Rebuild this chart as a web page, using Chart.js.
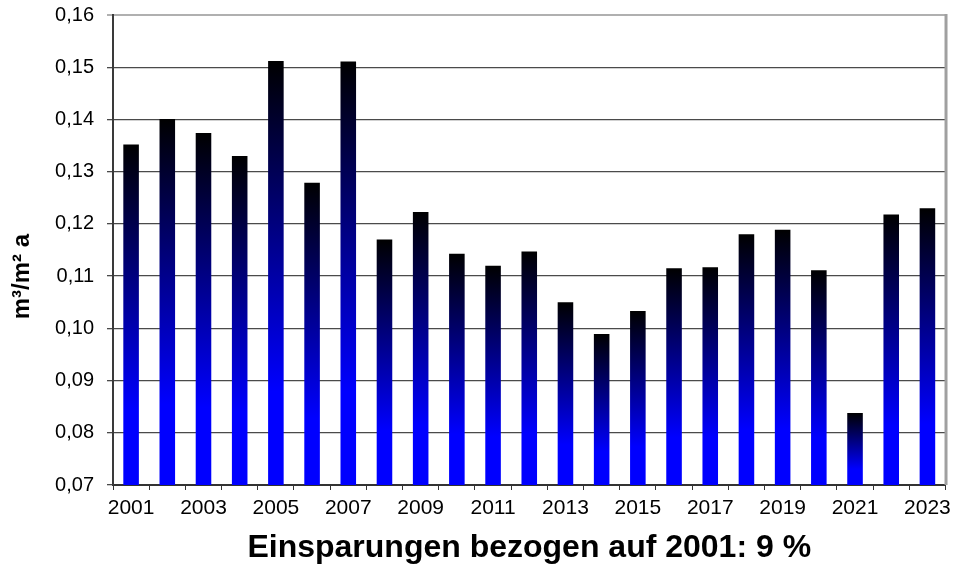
<!DOCTYPE html>
<html>
<head>
<meta charset="utf-8">
<script src="https://cdn.jsdelivr.net/npm/chart.js@4.4.1/dist/chart.umd.min.js"></script>
<style>
  html, body { margin: 0; padding: 0; background: #ffffff; }
  #c { display: block; }
</style>
</head>
<body>
<canvas id="c" width="957" height="568"></canvas>
<script>
const years = ['2001','2002','2003','2004','2005','2006','2007','2008','2009','2010','2011','2012',
               '2013','2014','2015','2016','2017','2018','2019','2020','2021','2022','2023'];
const consumption = [0.1352, 0.1401, 0.1374, 0.1330, 0.1512, 0.1279, 0.1511, 0.1170, 0.1223, 0.1143,
                     0.1120, 0.1147, 0.1050, 0.0989, 0.1033, 0.1115, 0.1117, 0.1180, 0.1189, 0.1111,
                     0.0838, 0.1218, 0.1230];
const yTickLabels = ['0,07','0,08','0,09','0,10','0,11','0,12','0,13','0,14','0,15','0,16'];
const yMin = 0.07, yMax = 0.16, yStep = 0.01;
const yTitle = 'm³/m² a';
const xTitle = 'Einsparungen bezogen auf 2001: 9 %';

const FONT = '"Liberation Sans", Arial, Helvetica, sans-serif';

function barGradient(ctx) {
  const chart = ctx.chart;
  const area = chart.chartArea;
  if (!area || !chart.scales.y || ctx.raw === undefined) return '#0000ff';
  const top = chart.scales.y.getPixelForValue(ctx.raw);
  const bottom = area.bottom;
  const g = chart.ctx.createLinearGradient(0, top, 0, bottom);
  g.addColorStop(0, '#000000');
  g.addColorStop(0.78, '#0000ff');
  g.addColorStop(1, '#0000ff');
  return g;
}

const frame = {
  id: 'frame',
  afterDatasetsDraw(chart) {
    const {ctx, chartArea: a} = chart;
    ctx.save();
    ctx.strokeStyle = '#a0a0a0';
    ctx.lineWidth = 3;
    ctx.beginPath();
    ctx.moveTo(a.right + 0.5, a.top - 1);
    ctx.lineTo(a.right + 0.5, a.bottom);
    ctx.stroke();
    ctx.restore();
  }
};

new Chart(document.getElementById('c'), {
  type: 'bar',
  data: {
    labels: years,
    datasets: [{
      data: consumption,
      backgroundColor: barGradient,
      borderWidth: 0,
      barPercentage: 0.43,
      categoryPercentage: 1.0
    }]
  },
  options: {
    responsive: false,
    devicePixelRatio: 1,
    animation: false,
    layout: { padding: { top: 15, right: 10, left: 0, bottom: 0 } },
    plugins: { legend: { display: false }, tooltip: { enabled: false } },
    scales: {
      x: {
        offset: true,
        grid: {
          offset: true,
          drawOnChartArea: false,
          drawTicks: true,
          tickLength: 5,
          color: '#333333',
          lineWidth: 1
        },
        border: { display: true, color: '#333333', width: 2 },
        ticks: {
          autoSkip: false,
          maxRotation: 0,
          minRotation: 0,
          padding: 6,
          color: '#000000',
          font: { family: FONT, size: 21 },
          callback: (v, i) => (i % 2 === 0 ? years[i] : '')
        },
        title: {
          display: true,
          text: xTitle,
          color: '#000000',
          font: { family: FONT, size: 32, weight: 'bold' },
          padding: { top: 0, bottom: 1 }
        },
        afterFit: (s) => { s.height = 83; }
      },
      y: {
        min: yMin,
        max: yMax,
        grid: {
          drawTicks: true,
          tickLength: 6,
          color: (c) => (c.tick && Math.abs(c.tick.value - yMax) < 1e-9 ? '#b0b0b0' : '#4a4a4a'),
          lineWidth: (c) => (c.tick && Math.abs(c.tick.value - yMax) < 1e-9 ? 2 : 1.3)
        },
        border: { display: true, color: '#3a3a3a', width: 2 },
        ticks: {
          stepSize: yStep,
          padding: 13,
          color: '#000000',
          font: { family: FONT, size: 20 },
          callback: (v, i) => yTickLabels[i]
        },
        title: {
          display: true,
          text: yTitle + '        ',
          color: '#000000',
          font: { family: FONT, size: 24, weight: 'bold' },
          padding: { top: 8, bottom: 0 }
        },
        afterFit: (s) => { s.width = 113; s.paddingTop = 0; s.paddingBottom = 0; }
      }
    }
  },
  plugins: [frame]
});
</script>
</body>
</html>
